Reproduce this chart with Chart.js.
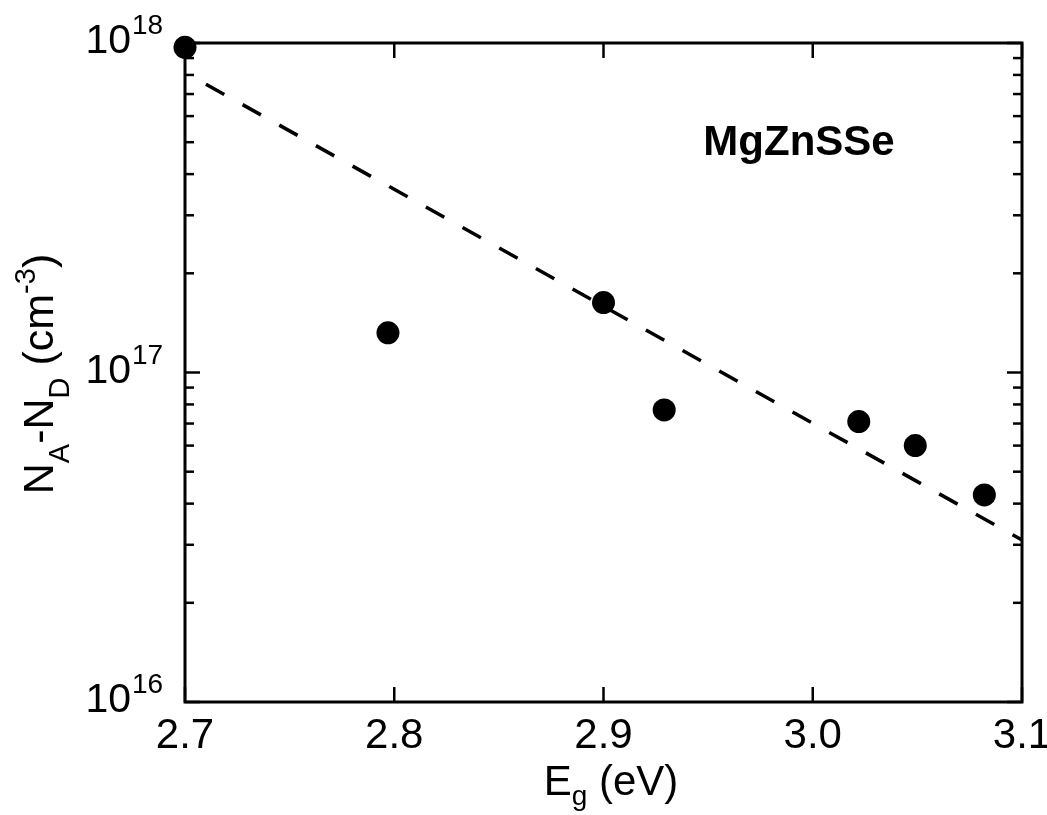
<!DOCTYPE html>
<html>
<head>
<meta charset="utf-8">
<script src="https://cdn.jsdelivr.net/npm/chart.js@4"></script>
<style>
  html, body { margin: 0; padding: 0; background: #fff; }
  #wrap { width: 1047px; height: 815px; }
</style>
</head>
<body>
<div id="wrap"><canvas id="c" width="1047" height="815"></canvas></div>
<script>
// ---- data ----
const energy = [2.700, 2.797, 2.900, 2.929, 3.022, 3.049, 3.082];
const concentration = [9.7e17, 1.32e17, 1.63e17, 7.7e16, 7.1e16, 6.0e16, 4.25e16];
const fitEnergy = [2.71, 3.10];
const fitConc = [7.5e17, 3.1e16];
const xTicks = [2.7, 2.8, 2.9, 3.0, 3.1];
const xTickLabels = ['2.7', '2.8', '2.9', '3.0', '3.1'];
const yMajorTicks = [1e16, 1e17, 1e18];
const yTickExponents = ['16', '17', '18'];
const yMinorMultipliers = [2, 3, 4, 5, 6, 7, 8, 9];
const annotationText = 'MgZnSSe';

const FONT = '"Liberation Sans", Arial, Helvetica, sans-serif';

function seg(ctx, x1, y1, x2, y2) {
  ctx.beginPath(); ctx.moveTo(x1, y1); ctx.lineTo(x2, y2); ctx.stroke();
}

// draw a sequence of [text, size, dy] pieces starting at x, baseline y
function drawPieces(ctx, pieces, x, y, measureOnly) {
  let cx = x;
  for (const [t, size, dy, bold] of pieces) {
    ctx.font = (bold ? 'bold ' : '') + size + 'px ' + FONT;
    if (!measureOnly) ctx.fillText(t, cx, y + dy);
    cx += ctx.measureText(t).width;
  }
  return cx - x;
}

const axesPlugin = {
  id: 'axesFrame',
  beforeDatasetsDraw(chart) {
    const { ctx, chartArea: { left, right, top, bottom }, scales: { x, y } } = chart;
    ctx.save();
    ctx.strokeStyle = '#000';
    ctx.lineCap = 'butt';
    ctx.lineWidth = 3;
    ctx.strokeRect(left, top, right - left, bottom - top);
    ctx.lineWidth = 2.5;
    const major = 15, minor = 9;
    xTicks.forEach(v => {
      const px = x.getPixelForValue(v);
      seg(ctx, px, bottom, px, bottom - major);
      seg(ctx, px, top, px, top + major);
    });
    yMajorTicks.forEach((d, i) => {
      const py = y.getPixelForValue(d);
      seg(ctx, left, py, left + major, py);
      seg(ctx, right, py, right - major, py);
      if (i < yMajorTicks.length - 1) {
        yMinorMultipliers.forEach(m => {
          const pm = y.getPixelForValue(m * d);
          seg(ctx, left, pm, left + minor, pm);
          seg(ctx, right, pm, right - minor, pm);
        });
      }
    });
    ctx.restore();
  },
  afterDraw(chart) {
    const { ctx, chartArea: { left, right, top, bottom }, scales: { x, y } } = chart;
    ctx.save();
    ctx.fillStyle = '#000';
    ctx.textBaseline = 'alphabetic';

    // x tick labels
    ctx.textAlign = 'center';
    ctx.font = '42px ' + FONT;
    xTicks.forEach((v, i) => {
      ctx.fillText(xTickLabels[i], x.getPixelForValue(v), bottom + 46);
    });

    // y tick labels 10^n
    ctx.textAlign = 'left';
    yMajorTicks.forEach((d, i) => {
      const py = y.getPixelForValue(d);
      ctx.font = '41px ' + FONT;
      const w10 = ctx.measureText('10').width;
      ctx.fillText('10', 131 - w10, py + 10);
      ctx.font = '28px ' + FONT;
      ctx.fillText(yTickExponents[i], 132, py - 9);
    });

    // x title: E_g (eV)
    const xt = [['E', 42, 0], ['g', 28, 10], [' (eV)', 42, 0]];
    const xw = drawPieces(ctx, xt, 0, 0, true);
    drawPieces(ctx, xt, 611 - xw / 2, 795);

    // y title: N_A-N_D (cm^-3)
    const yt = [['N', 43, 0], ['A', 29, 16], ['-N', 43, 0], ['D', 29, 16], [' (cm', 43, 0], ['-3', 29, -18], [')', 43, 0]];
    ctx.save();
    ctx.translate(53, 374);
    ctx.rotate(-Math.PI / 2);
    const yw = drawPieces(ctx, yt, 0, 0, true);
    drawPieces(ctx, yt, -yw / 2, 0);
    ctx.restore();

    // annotation
    ctx.textAlign = 'center';
    ctx.font = 'bold 42px ' + FONT;
    ctx.fillText(annotationText, 799, 155);
    ctx.restore();
  }
};

new Chart(document.getElementById('c'), {
  type: 'scatter',
  data: {
    datasets: [
      {
        label: 'data',
        data: energy.map((e, i) => ({ x: e, y: concentration[i] })),
        pointRadius: 11.5,
        pointHoverRadius: 11.5,
        pointBackgroundColor: '#000',
        pointBorderColor: '#000',
        pointBorderWidth: 0,
        showLine: false,
        clip: false
      },
      {
        label: 'fit',
        data: fitEnergy.map((e, i) => ({ x: e, y: fitConc[i] })),
        showLine: true,
        borderColor: '#000',
        borderWidth: 3.5,
        borderDash: [21, 21],
        pointRadius: 0,
        fill: false,
        clip: false
      }
    ]
  },
  options: {
    responsive: false,
    animation: false,
    devicePixelRatio: 1,
    layout: { padding: { left: 185, top: 43, right: 25, bottom: 113 } },
    plugins: { legend: { display: false }, tooltip: { enabled: false } },
    scales: {
      x: { type: 'linear', min: xTicks[0], max: xTicks[xTicks.length - 1], display: false },
      y: { type: 'logarithmic', min: yMajorTicks[0], max: yMajorTicks[yMajorTicks.length - 1], display: false }
    }
  },
  plugins: [axesPlugin]
});
</script>
</body>
</html>
